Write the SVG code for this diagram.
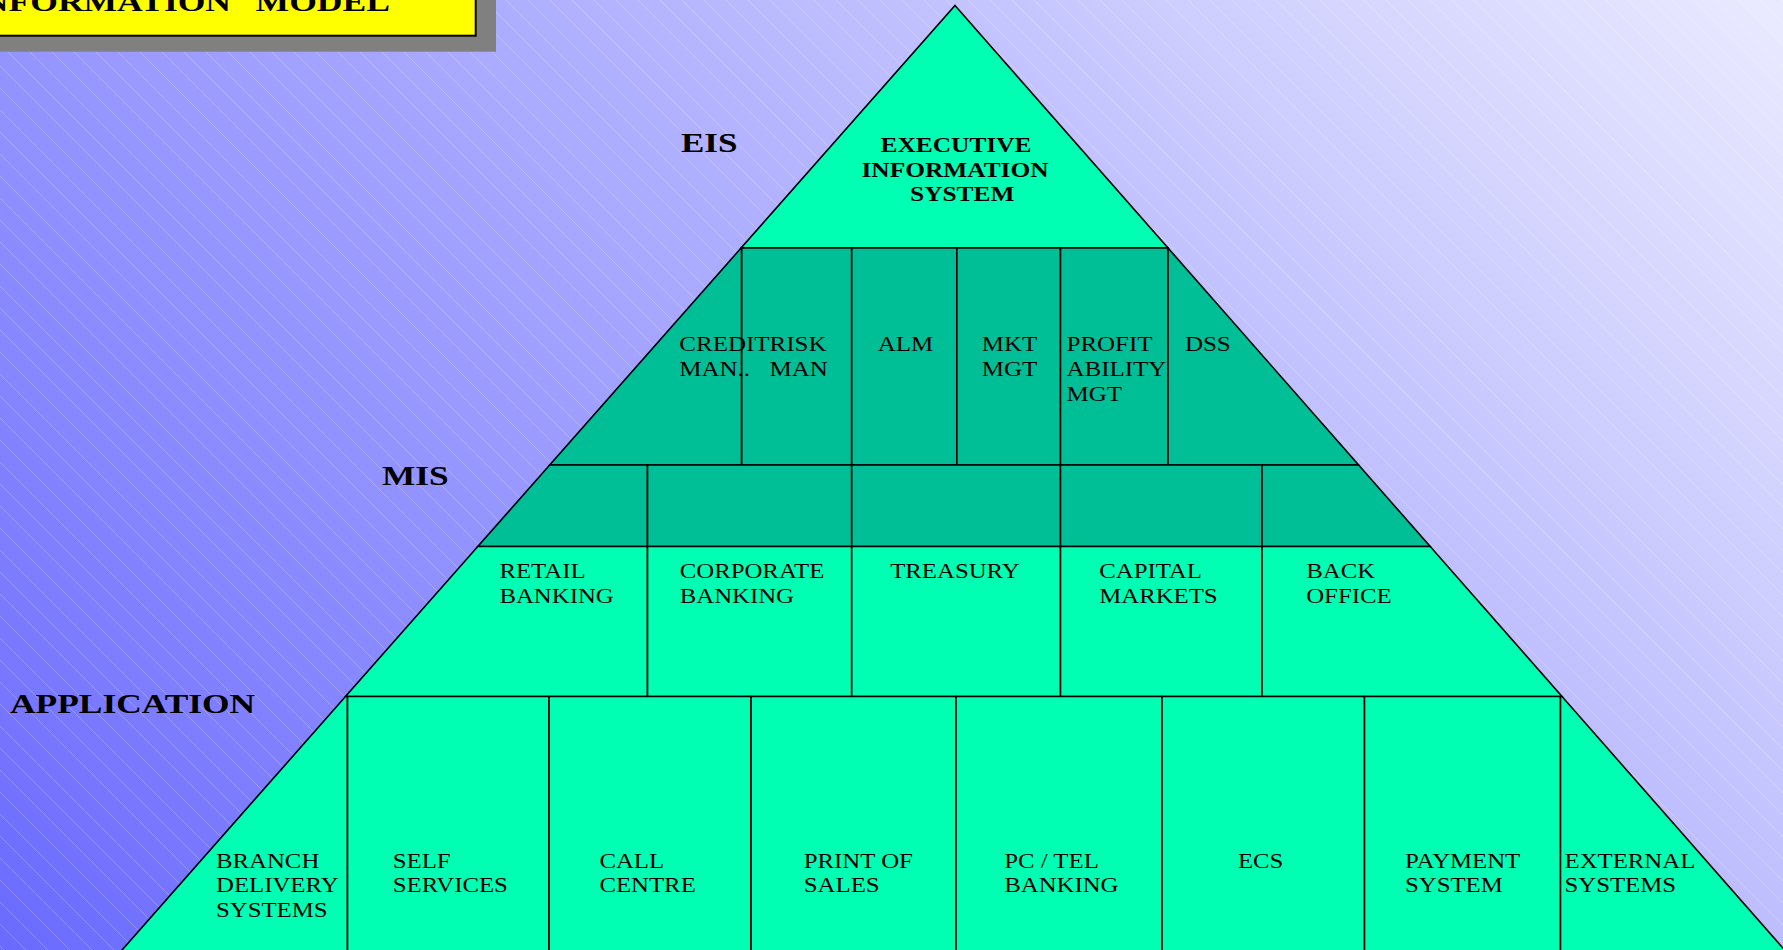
<svg xmlns="http://www.w3.org/2000/svg" width="1783" height="950" viewBox="0 0 1783 950">
<defs>
<linearGradient id="bg" gradientUnits="userSpaceOnUse" x1="0" y1="950" x2="1366" y2="-416">
<stop offset="0" stop-color="#6A6AFF"/>
<stop offset="1" stop-color="#EAEAFF"/>
</linearGradient>
<pattern id="hatch" patternUnits="userSpaceOnUse" width="22" height="22">
<path d="M0,0L22,22M-2,20L2,24M20,-2L24,2" stroke="#FFFFFF" stroke-opacity="0.22" stroke-width="1" fill="none"/>
</pattern>
<style>
.lt{fill:#00FFB3;stroke:#000;stroke-width:1.6;stroke-linejoin:miter}
.dk{fill:#00BF96;stroke:#000;stroke-width:1.6;stroke-linejoin:miter}
.t{font-family:"Liberation Serif","Times New Roman",serif;font-size:20px;fill:#000}
.b{font-weight:bold}
.big{font-family:"Liberation Serif","Times New Roman",serif;font-size:28px;font-weight:bold;fill:#000}
</style>
</defs>
<rect width="1783" height="950" fill="url(#bg)"/>
<rect width="1783" height="950" fill="url(#hatch)"/>

<g id="title-box">
<rect x="-50" y="-50" width="546" height="101.7" fill="#808080"/>
<rect x="-50" y="-50" width="525.7" height="85.7" fill="#FFFF00" stroke="#000" stroke-width="2"/>
<text class="big" transform="translate(-31 11) scale(1.27 1)">INFORMATION</text>
<text class="big" transform="translate(255.6 11) scale(1.27 1)">MODEL</text>
</g>

<g id="layer-labels">
<text class="big" transform="translate(681 152) scale(1.25 1)">EIS</text>
<text class="big" transform="translate(382 485) scale(1.26 1)">MIS</text>
<text class="big" transform="translate(10 712.7) scale(1.265 1)">APPLICATION</text>
</g>

<g id="eis">
<polygon class="lt" points="955,5.5 1168,248 741.1,248"/>
<text class="t b" transform="translate(880.5 152.3) scale(1.27 1)">EXECUTIVE</text>
<text class="t b" transform="translate(861.4 176.7) scale(1.27 1)">INFORMATION</text>
<text class="t b" transform="translate(910 201) scale(1.27 1)">SYSTEM</text>
</g>

<g id="risk-man">
<polygon class="dk" points="741.5,248 851.7,248 851.7,465 741.5,465"/>
<text class="t" transform="translate(769.6 351) scale(1.25 1)"><tspan x="0" y="0">RISK</tspan><tspan x="0" y="25">MAN</tspan></text>
</g>
<g id="credit-man">
<polygon class="dk" points="741.1,248 741.5,248 741.5,465 549.7,465"/>
<text class="t" transform="translate(679.3 351) scale(1.25 1)"><tspan x="0" y="0">CREDIT</tspan><tspan x="0" y="25">MAN..</tspan></text>
</g>
<g id="alm">
<polygon class="dk" points="851.7,248 956.8,248 956.8,465 851.7,465"/>
<text class="t" transform="translate(877.8 351) scale(1.25 1)">ALM</text>
</g>
<g id="mkt-mgt">
<polygon class="dk" points="956.8,248 1060.5,248 1060.5,465 956.8,465"/>
<text class="t" transform="translate(981.8 351) scale(1.25 1)"><tspan x="0" y="0">MKT</tspan><tspan x="0" y="25">MGT</tspan></text>
</g>
<g id="profitability-mgt">
<polygon class="dk" points="1060.5,248 1168,248 1168,465 1060.5,465"/>
<text class="t" transform="translate(1066.5 351) scale(1.25 1)"><tspan x="0" y="0">PROFIT</tspan><tspan x="0" y="25">ABILITY</tspan><tspan x="0" y="50">MGT</tspan></text>
</g>
<g id="dss">
<polygon class="dk" points="1168,248 1358.6,465 1168,465"/>
<text class="t" transform="translate(1184.9 351) scale(1.25 1)">DSS</text>
</g>

<g id="mis-lower">
<polygon class="dk" points="549.7,465 647.5,465 647.5,546.5 477.8,546.5"/>
<polygon class="dk" points="647.5,465 851.7,465 851.7,546.5 647.5,546.5"/>
<polygon class="dk" points="851.7,465 1060.5,465 1060.5,546.5 851.7,546.5"/>
<polygon class="dk" points="1060.5,465 1262,465 1262,546.5 1060.5,546.5"/>
<polygon class="dk" points="1262,465 1358.6,465 1430.2,546.5 1262,546.5"/>
</g>

<g id="retail-banking">
<polygon class="lt" points="477.8,546.5 647.5,546.5 647.5,696.5 345.5,696.5"/>
<text class="t" transform="translate(499.4 577.7) scale(1.24 1)"><tspan x="0" y="0">RETAIL</tspan><tspan x="0" y="25">BANKING</tspan></text>
</g>
<g id="corporate-banking">
<polygon class="lt" points="647.5,546.5 851.7,546.5 851.7,696.5 647.5,696.5"/>
<text class="t" transform="translate(679.7 577.7) scale(1.24 1)"><tspan x="0" y="0">CORPORATE</tspan><tspan x="0" y="25">BANKING</tspan></text>
</g>
<g id="treasury">
<polygon class="lt" points="851.7,546.5 1060.5,546.5 1060.5,696.5 851.7,696.5"/>
<text class="t" transform="translate(890.2 577.7) scale(1.24 1)">TREASURY</text>
</g>
<g id="capital-markets">
<polygon class="lt" points="1060.5,546.5 1262,546.5 1262,696.5 1060.5,696.5"/>
<text class="t" transform="translate(1099.2 577.7) scale(1.24 1)"><tspan x="0" y="0">CAPITAL</tspan><tspan x="0" y="25">MARKETS</tspan></text>
</g>
<g id="back-office">
<polygon class="lt" points="1262,546.5 1430.2,546.5 1562,696.5 1262,696.5"/>
<text class="t" transform="translate(1306.2 577.7) scale(1.24 1)"><tspan x="0" y="0">BACK</tspan><tspan x="0" y="25">OFFICE</tspan></text>
</g>

<g id="branch-delivery">
<polygon class="lt" points="345.5,696.5 347.5,696.5 347.5,952 120.3,952"/>
<text class="t" transform="translate(216 868.3) scale(1.24 1)"><tspan x="0" y="0">BRANCH</tspan><tspan x="0" y="24.2">DELIVERY</tspan><tspan x="0" y="48.4">SYSTEMS</tspan></text>
</g>
<g id="self-services">
<polygon class="lt" points="347.5,696.5 549,696.5 549,952 347.5,952"/>
<text class="t" transform="translate(392.8 868.3) scale(1.24 1)"><tspan x="0" y="0">SELF</tspan><tspan x="0" y="24.2">SERVICES</tspan></text>
</g>
<g id="call-centre">
<polygon class="lt" points="549,696.5 751,696.5 751,952 549,952"/>
<text class="t" transform="translate(599.4 868.3) scale(1.24 1)"><tspan x="0" y="0">CALL</tspan><tspan x="0" y="24.2">CENTRE</tspan></text>
</g>
<g id="print-of-sales">
<polygon class="lt" points="751,696.5 956,696.5 956,952 751,952"/>
<text class="t" transform="translate(803.8 868.3) scale(1.24 1)"><tspan x="0" y="0">PRINT OF</tspan><tspan x="0" y="24.2">SALES</tspan></text>
</g>
<g id="pc-tel-banking">
<polygon class="lt" points="956,696.5 1162,696.5 1162,952 956,952"/>
<text class="t" transform="translate(1004.2 868.3) scale(1.24 1)"><tspan x="0" y="0">PC / TEL</tspan><tspan x="0" y="24.2">BANKING</tspan></text>
</g>
<g id="ecs">
<polygon class="lt" points="1162,696.5 1364.5,696.5 1364.5,952 1162,952"/>
<text class="t" transform="translate(1237.9 868.3) scale(1.24 1)">ECS</text>
</g>
<g id="payment-system">
<polygon class="lt" points="1364.5,696.5 1560.5,696.5 1560.5,952 1364.5,952"/>
<text class="t" transform="translate(1405 868.3) scale(1.24 1)"><tspan x="0" y="0">PAYMENT</tspan><tspan x="0" y="24.2">SYSTEM</tspan></text>
</g>
<g id="external-systems">
<polygon class="lt" points="1560.5,696.5 1562,696.5 1786.4,952 1560.5,952"/>
<text class="t" transform="translate(1564.5 868.3) scale(1.24 1)"><tspan x="0" y="0">EXTERNAL</tspan><tspan x="0" y="24.2">SYSTEMS</tspan></text>
</g>

<g id="connectors"></g>
</svg>
